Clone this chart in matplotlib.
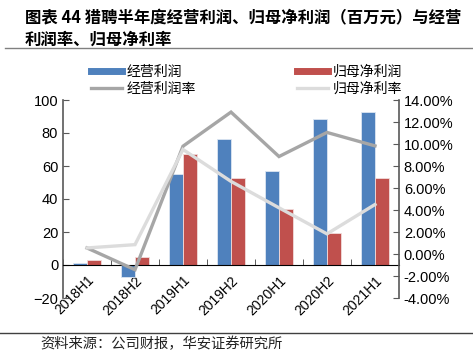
import numpy as np
import matplotlib
matplotlib.use('Agg')
import matplotlib.pyplot as plt
from matplotlib.lines import Line2D
from matplotlib.ticker import FuncFormatter

plt.rcParams['font.family'] = ['Noto Sans CJK SC', 'DejaVu Sans']

periods = ['2018H1', '2018H2', '2019H1', '2019H2', '2020H1', '2020H2', '2021H1']
op_profit = [1.4, -7.0, 55.3, 76.2, 57.0, 88.5, 93.0]      # 经营利润
net_profit = [2.8, 4.8, 67.3, 52.5, 34.0, 19.4, 53.0]      # 归母净利润
op_margin = [0.55, -1.43, 9.8, 12.9, 8.86, 11.05, 9.83]    # 经营利润率 (%)
net_margin = [0.55, 0.85, 9.5, 6.6, 4.2, 1.83, 4.5]        # 归母净利率 (%)

blue = '#4F81BD'
red = '#C0504D'
gray = '#A6A6A6'
lgray = '#DCDCDC'
num_font = 'Liberation Sans'

fig = plt.figure(figsize=(4.73, 3.52), dpi=100)
ax = fig.add_axes([63/473, 1-298/352, 336/473, 198/352])
ax2 = ax.twinx()

x = np.arange(len(periods))
w = 0.29
ax.bar(x - w/2, op_profit, w, color=blue, edgecolor='#DCE6F2', linewidth=0.6, zorder=2)
ax.bar(x + w/2, net_profit, w, color=red, edgecolor='#F2DCDB', linewidth=0.6, zorder=2)

ax.set_xlim(-0.5, len(periods) - 0.5)
ax.set_ylim(-20, 100)
ax.set_yticks(range(-20, 101, 20))
ax.spines['top'].set_visible(False)
ax.spines['right'].set_visible(False)
ax.spines['left'].set_color('#595959')
ax.spines['left'].set_linewidth(1.2)
ax.spines['bottom'].set_position(('data', 0))
ax.spines['bottom'].set_color('black')
ax.set_xticks(np.arange(-0.5, len(periods), 1), minor=True)
ax.set_xticks(x)
ax.set_xticklabels(periods, rotation=45, ha='right', rotation_mode='anchor',
                   fontsize=10, family=num_font)
ax.tick_params(axis='x', which='major', length=0, pad=6)
ax.tick_params(axis='x', which='minor', length=4, direction='in', color='#404040')
ax.tick_params(axis='y', direction='in', length=4, color='#595959', labelsize=10.5)
for t in ax.get_yticklabels():
    t.set_family(num_font)

ax2.plot(x, op_margin, color=gray, lw=2.4, zorder=3, solid_joinstyle='miter')
ax2.plot(x, net_margin, color=lgray, lw=2.4, zorder=3, solid_joinstyle='miter')
ax2.set_ylim(-4, 14)
ax2.set_yticks(range(-4, 15, 2))
ax2.yaxis.set_major_formatter(FuncFormatter(lambda v, p: '%.2f%%' % v))
for s in ['top', 'left', 'bottom']:
    ax2.spines[s].set_visible(False)
ax2.spines['right'].set_color('#595959')
ax2.spines['right'].set_linewidth(1.2)
ax2.tick_params(axis='y', direction='in', length=4, color='#595959', labelsize=10.5)
for t in ax2.get_yticklabels():
    t.set_family(num_font)

handles = [
    Line2D([0], [0], color=blue, lw=5),
    Line2D([0], [0], color=gray, lw=2.4),
    Line2D([0], [0], color=red, lw=5),
    Line2D([0], [0], color=lgray, lw=2.4),
]
labels = ['经营利润', '经营利润率', '归母净利润', '归母净利率']
fig.legend(handles, labels, ncol=2, loc='upper left', bbox_to_anchor=(80/473, 1-54/352),
           frameon=False, fontsize=10, handlelength=2.2, handletextpad=0.35,
           columnspacing=7.3, labelspacing=0.2, borderpad=0.3)

fig.text(25/473, 1-18/352, '图表 44 猎聘半年度经营利润、归母净利润（百万元）与经营',
         fontsize=11.8, fontweight='bold', va='center', ha='left')
fig.text(25/473, 1-40/352, '利润率、归母净利率',
         fontsize=11.8, fontweight='bold', va='center', ha='left')
fig.add_artist(Line2D([5/473, 1], [1-48/352, 1-48/352], color='#808080', lw=1))
fig.add_artist(Line2D([0, 1], [1-333/352, 1-333/352], color='#404040', lw=1))
fig.text(40/473, 1-344/352, '资料来源：公司财报，华安证券研究所', fontsize=10.3,
         va='center', ha='left', color='#222222')

fig.savefig('out.png', dpi=100)
